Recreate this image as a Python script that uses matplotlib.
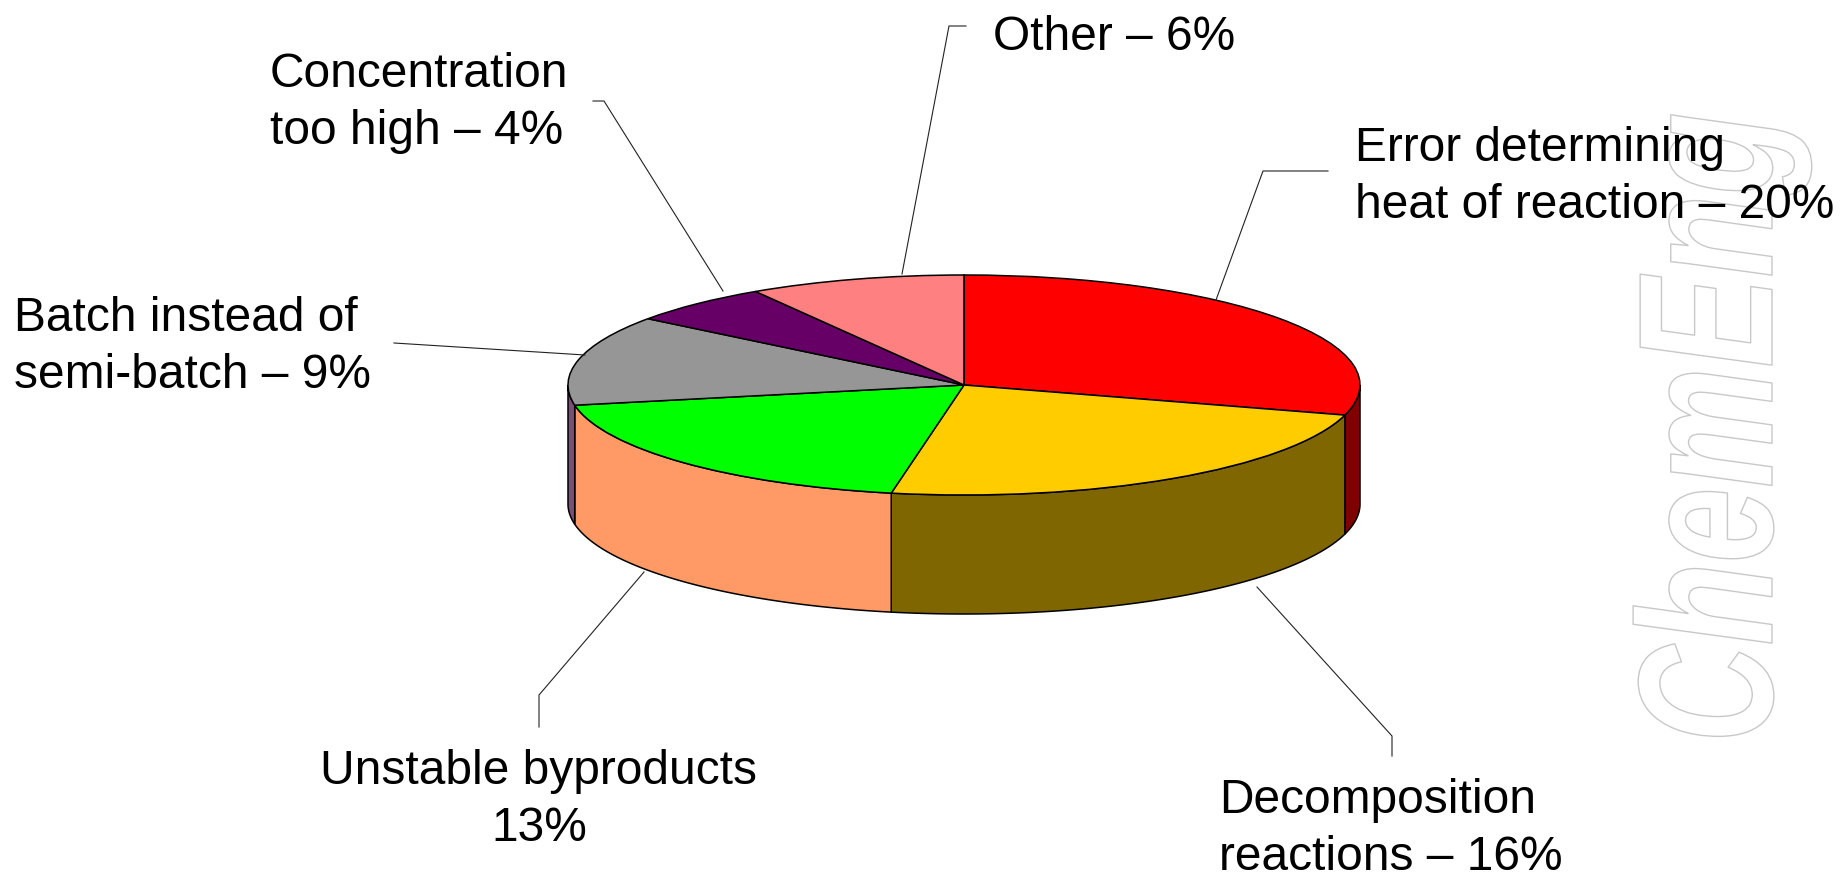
import numpy as np
import matplotlib
matplotlib.use('Agg')
import matplotlib.pyplot as plt
from matplotlib.patheffects import AbstractPathEffect
from matplotlib.transforms import Affine2D

W, H = 1841, 873

# slices, clockwise from 12 o'clock
values = [20, 16, 13, 9, 4, 6]
label_heads = ['Error determining\nheat of reaction – ', 'Decomposition\nreactions – ',
               'Unstable byproducts\n', 'Batch instead of\nsemi-batch – ',
               'Concentration\ntoo high – ', 'Other – ']
top_colors = ['#FF0000', '#FFCC00', '#00FF00', '#969696', '#660066', '#FF8080']
wall_colors = ['#800000', '#806600', '#FF9966', '#7A4E75', '#330033', '#804040']

# pie geometry in pixels
cx, cy = 964, 385
rx, ry = 396, 110
depth = 119 / ry

# label placement: x, y (pixels from top left), ha
label_pos = [(1355, 177, 'left'), (1219, 829, 'left'), (539, 800, 'center'),
             (14, 347, 'left'), (270, 103, 'left'), (993, 37, 'left')]
# leader lines, pie end first
leaders = [[(1216, 300), (1263, 171), (1328, 171)],
           [(1257, 587), (1392, 736), (1392, 756)],
           [(644, 572), (539, 695), (539, 727)],
           [(585, 355), (394, 343)],
           [(723, 291), (604, 101), (593, 101)],
           [(902, 274), (949, 26), (966, 26)]]

plt.rcParams['font.family'] = ['Liberation Sans', 'DejaVu Sans']


class StretchedOutline(AbstractPathEffect):
    # white letters with thin grey outline, squeezed along the y axis
    def __init__(self, y0, sy, edge, lw):
        super().__init__()
        self.y0, self.sy, self.edge, self.lw = y0, sy, edge, lw

    def draw_path(self, renderer, gc, tpath, affine, rgbFace=None):
        gc0 = renderer.new_gc()
        gc0.copy_properties(gc)
        gc0.set_foreground(self.edge)
        gc0.set_linewidth(self.lw)
        squeeze = Affine2D().translate(0, -self.y0).scale(1, self.sy).translate(0, self.y0)
        renderer.draw_path(gc0, tpath, affine + squeeze, rgbFace)
        gc0.restore()


fig = plt.figure(figsize=(W / 100, H / 100), dpi=100, facecolor='white')
ax = fig.add_axes([0, 0, 1, 1])
px = Affine2D().scale(1, -1).translate(0, H)

# watermark
wm = ax.text(1772, 743, 'ChemEng', transform=px, rotation=90, rotation_mode='anchor',
             ha='left', va='baseline', fontsize=138, fontweight='bold', fontstyle='italic',
             color='white', zorder=0)
wm.set_path_effects([StretchedOutline(H - 743, 0.705, '#C8C8C8', 1.0)])

# side walls, only the front half of the rim shows
fracs = np.cumsum([0] + values) / sum(values)
for i, col in enumerate(wall_colors):
    a0 = 90 - 360 * fracs[i]
    a1 = 90 - 360 * fracs[i + 1]
    lo, hi = max(a1, -180), min(a0, 0)
    if lo >= hi:
        continue
    t = np.radians(np.linspace(hi, lo, 80))
    xs = np.r_[np.cos(t), np.cos(t[::-1])]
    ys = np.r_[np.sin(t), np.sin(t[::-1]) - depth]
    ax.fill(xs, ys, facecolor=col, edgecolor='black', lw=1.1, zorder=1)

# top face
ax.pie(values, colors=top_colors, startangle=90, counterclock=False, radius=1,
       wedgeprops={'edgecolor': 'black', 'linewidth': 1.1, 'zorder': 2})
ax.set_aspect('auto')
ax.axis('off')

for line in leaders:
    xs, ys = zip(*line)
    ax.plot(xs, ys, transform=px, color='#222222', lw=0.8, zorder=3, clip_on=False)

ax.set_xlim(-cx / rx, (W - cx) / rx)
ax.set_ylim((cy - H) / ry, cy / ry)

for head, v, (x, y, ha) in zip(label_heads, values, label_pos):
    ax.text(x, y, f'{head}{v}%', transform=px, fontsize=34.5, ha=ha, va='center',
            multialignment=ha, linespacing=1.35, color='black', zorder=4)

fig.savefig('out.png', dpi=100)
